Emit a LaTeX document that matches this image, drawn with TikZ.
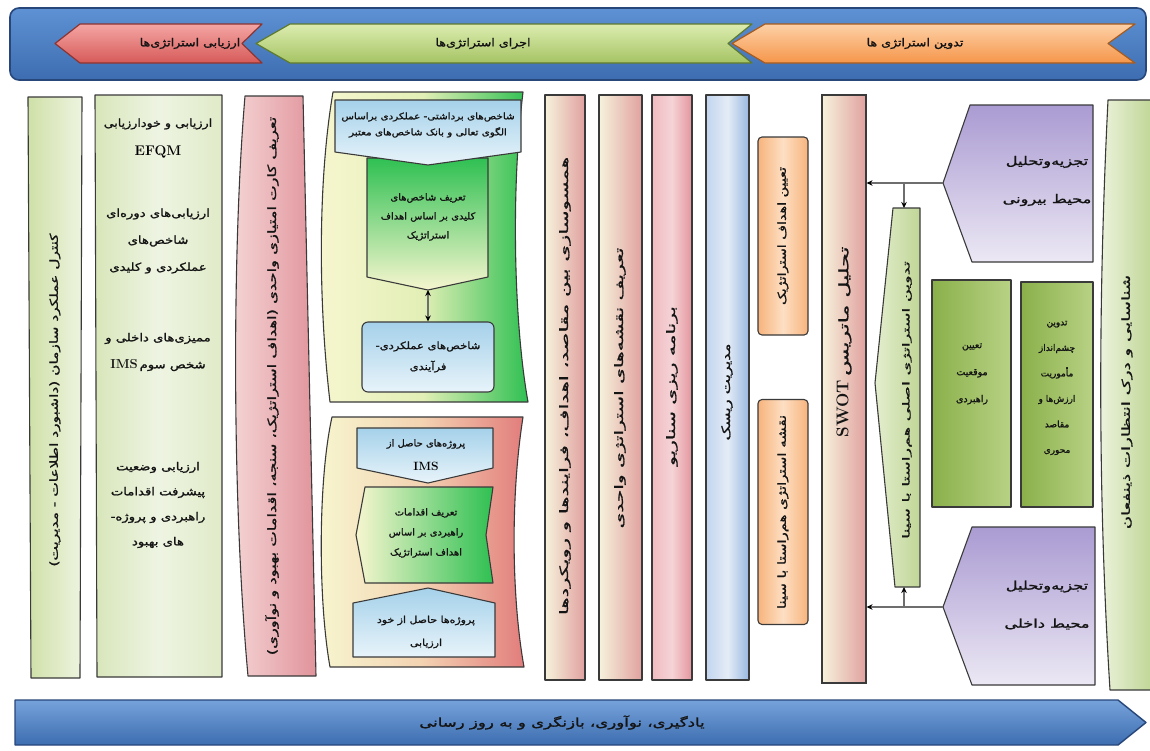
\documentclass[tikz,border=0pt]{standalone}
\usepackage{graphicx}
\usepackage{fontspec}
\TeXXeTstate=1
\newfontfamily\fa[Script=Arabic,FakeBold=1.3]{DejaVu Sans}
\usetikzlibrary{arrows.meta}
% one right-to-left line, optionally widened
\newcommand\prs[2][1]{\scalebox{#1}[1]{\beginR#2\endR}}
\newcommand\latin[1]{{\normalfont\bfseries #1}}

% palette
\definecolor{edge}{HTML}{3A3A3A}
\definecolor{ink}{HTML}{141414}
\definecolor{barTop}{HTML}{5E92D4}
\definecolor{barBot}{HTML}{3D6DB0}
\definecolor{barEdge}{HTML}{27467A}
\definecolor{redTop}{HTML}{F4A6A4}
\definecolor{redBot}{HTML}{D65A58}
\definecolor{redEdge}{HTML}{8C3432}
\definecolor{grnTop}{HTML}{DCECB0}
\definecolor{grnBot}{HTML}{A5C463}
\definecolor{grnEdge}{HTML}{5E7A2E}
\definecolor{orgTop}{HTML}{FDD0A6}
\definecolor{orgBot}{HTML}{F5964A}
\definecolor{orgEdge}{HTML}{A65B1E}
\definecolor{paleA}{HTML}{CFE0A8}
\definecolor{paleB}{HTML}{EEF4E0}
\definecolor{efqmA}{HTML}{D8E6BA}
\definecolor{efqmM}{HTML}{EEF4E2}
\definecolor{efqmB}{HTML}{E0EBC8}
\definecolor{pinkA}{HTML}{F4D5D5}
\definecolor{pinkB}{HTML}{E1939B}
\definecolor{cream}{HTML}{F6F2DC}
\definecolor{rose}{HTML}{E0A19F}
\definecolor{scenA}{HTML}{EFBCC1}
\definecolor{scenM}{HTML}{F5D3D6}
\definecolor{scenB}{HTML}{E3959D}
\definecolor{riskA}{HTML}{C2D4EE}
\definecolor{riskM}{HTML}{E4ECF7}
\definecolor{riskB}{HTML}{98B7E0}
\definecolor{orA}{HTML}{F7B47D}
\definecolor{orM}{HTML}{FDDFC3}
\definecolor{lightG}{HTML}{E4EECF}
\definecolor{midG}{HTML}{C0D696}
\definecolor{boxG1}{HTML}{8AB04A}
\definecolor{boxG2}{HTML}{B8D285}
\definecolor{purA}{HTML}{AA9BD2}
\definecolor{purB}{HTML}{ECE8F4}
\definecolor{yel}{HTML}{F7F6CF}
\definecolor{vivid}{HTML}{2FC052}
\definecolor{yelG}{HTML}{E2EFB6}
\definecolor{peach}{HTML}{F3D3B2}
\definecolor{redish}{HTML}{E27D7C}
\definecolor{skyA}{HTML}{A5D1EA}
\definecolor{skyB}{HTML}{E8F4FA}
\definecolor{linegray}{HTML}{6E6E6E}

\begin{document}
\begin{tikzpicture}[x=1pt,y=-1pt,
  outline/.style={draw=edge,line width=1.1pt,line join=round},
  chev/.style={line width=1.2pt,line join=round},
  fatext/.style={font=\fa\fontsize{9.5}{12}\selectfont,text=ink,align=center,inner sep=0pt},
  coltext/.style={fatext,rotate=90,font=\fa\fontsize{11.5}{12}\selectfont},
  head/.style={fatext,font=\fa\fontsize{11}{12}\selectfont},
  conn/.style={draw=linegray,line width=1.4pt},
  tipend/.style={-{Stealth[length=6pt,width=5.5pt,color=black]}},
  tipboth/.style={{Stealth[length=6pt,width=5.5pt,color=black]}-{Stealth[length=6pt,width=5.5pt,color=black]}}
]
\useasboundingbox (0,0) rectangle (1150,750);
\fill[white] (0,0) rectangle (1150,750);

%------------------------------------------------ phase banner
\path[draw=barEdge,line width=1.6pt,rounded corners=9,top color=barTop,bottom color=barBot]
  (10,8) rectangle (1146,80);
\path[chev,draw=grnEdge,top color=grnTop,bottom color=grnBot]
  (256,43.5) -- (290,24) -- (752,24) -- (728,43.5) -- (752,63) -- (290,63) -- cycle;
\path[chev,draw=redEdge,top color=redTop,bottom color=redBot]
  (55,43.5) -- (80,24) -- (262,24) -- (242,43.5) -- (262,63) -- (80,63) -- cycle;
\path[chev,draw=orgEdge,top color=orgTop,bottom color=orgBot]
  (732,43.5) -- (765,24) -- (1135,24) -- (1108,43.5) -- (1135,63) -- (765,63) -- cycle;
\node[head] (evalHead) at (190,43.5) {\prs[1.15]{ارزیابی استراتژی‌ها}};
\node[head] (execHead) at (483,43.5) {\prs[1.15]{اجرای استراتژی‌ها}};
\node[head] (formHead) at (915,43.5) {\prs[1.15]{تدوین استراتژی ها}};

%------------------------------------------------ learning arrow
\path[draw=barEdge,line width=1.4pt,line join=round,top color=barTop!85!white,bottom color=barBot]
  (15,700) -- (1118,700) -- (1146,722.5) -- (1118,745) -- (15,745) -- cycle;
\node[head,font=\fa\fontsize{12}{12}\selectfont] (learn) at (562,722.5)
  {\prs[1.38]{یادگیری، نوآوری، بازنگری و به روز رسانی}};

%------------------------------------------------ evaluation columns
\path[outline,left color=paleA,right color=paleB] (28,97) -- (82,97) -- (80,678) -- (31,678) -- cycle;
\node[coltext,font=\fa\fontsize{11}{12}\selectfont] (ctrl) at (55,400)
  {\prs[1.4]{کنترل عملکرد سازمان (داشبورد اطلاعات - مدیریت)}};

\path[outline,left color=efqmA,right color=efqmB,middle color=efqmM] (95,95) -- (222,95) -- (222,677) -- (97,677) -- cycle;
\node[fatext,font=\fa\fontsize{11}{12}\selectfont] (efqmA) at (158,124) {\prs[1.15]{ارزیابی و خودارزیابی}};
\node[inner sep=0pt,font=\bfseries\fontsize{14}{14}\selectfont] (efqmB) at (158,152) {EFQM};
\node[fatext,font=\fa\fontsize{11}{27}\selectfont] (periodic) at (158,241)
  {\prs[1.2]{ارزیابی‌های دوره‌ای}\\\prs[1.2]{شاخص‌های}\\\prs[1.2]{عملکردی و کلیدی}};
\node[fatext,font=\fa\fontsize{11}{27}\selectfont] (audit) at (158,352)
  {\prs[1.2]{ممیزی‌های داخلی و}\\{\fontsize{13}{13}\selectfont\latin{IMS}}\,\prs[1.2]{شخص سوم}};
\node[fatext,font=\fa\fontsize{11}{25}\selectfont] (progress) at (158,505)
  {\prs[1.2]{ارزیابی وضعیت}\\\prs[1.2]{پیشرفت اقدامات}\\\prs[1.2]{راهبردی و پروژه‌-}\\\prs[1.2]{های بهبود}};

\path[outline,left color=pinkA,right color=pinkB]
  (245,96) -- (303,96) -- (316,676) -- (248,676) .. controls (232,500) and (232,250) .. (245,96) -- cycle;
\node[coltext] (scorecard) at (272,386)
  {\prs[1.42]{تعریف کارت امتیازی واحدی (اهداف استراتژیک، سنجه، اقدامات بهبود و نوآوری)}};

%------------------------------------------------ indicator group
\path[outline,left color=yel,right color=vivid,middle color=yelG]
  (333,92) -- (523,92) .. controls (510,200) and (515,330) .. (528,402) -- (330,402)
  .. controls (318,300) and (318,180) .. (333,92) -- cycle;
\path[outline,top color=vivid,bottom color=yel]
  (367,158) -- (488,158) -- (488,277) -- (428,290) -- (367,277) -- cycle;
\coordinate (kpiTip) at (428,290);
\node[fatext] (kpiDef) at (428,217) {\prs[1.05]{تعریف شاخص‌های}\\[7pt]\prs[1.05]{کلیدی بر اساس اهداف}\\[7pt]\prs[1.05]{استراتژیک}};
\path[outline,top color=skyA,bottom color=skyB]
  (335,100) -- (521,100) -- (521,152) -- (428,165) -- (335,152) -- cycle;
\node[fatext,font=\fa\fontsize{9}{11}\selectfont] (perception) at (428,125)
  {\prs[1.15]{شاخص‌های برداشتی- عملکردی براساس}\\[5pt]\prs[1.15]{الگوی تعالی و بانک شاخص‌های معتبر}};
\node[outline,rounded corners=6,top color=skyA,bottom color=skyB,minimum width=132pt,minimum height=70pt,
      fatext,font=\fa\fontsize{10}{12}\selectfont,draw=edge,line width=1.1pt] (kpiProc) at (428,357)
  {\prs[1.15]{شاخص‌های عملکردی-}\\[9pt]\prs[1.15]{فرآیندی}};
\draw[conn,tipboth] (kpiTip) -- (kpiProc.north);

%------------------------------------------------ initiative group
\path[outline,left color=yel,right color=redish,middle color=peach]
  (332,417) -- (523,417) .. controls (510,500) and (512,600) .. (524,667) -- (330,667)
  .. controls (318,600) and (318,480) .. (332,417) -- cycle;
\path[outline,left color=yel,right color=vivid]
  (365,487) -- (493,487) -- (486,535) -- (493,583) -- (365,583) -- (356,535) -- cycle;
\node[fatext] (actions) at (426,533) {\prs[1.05]{تعریف اقدامات}\\[8pt]\prs[1.05]{راهبردی بر اساس}\\[8pt]\prs[1.05]{اهداف استراتژیک}};
\path[outline,top color=skyA,bottom color=skyB]
  (357,428) -- (493,428) -- (493,468) -- (428,483) -- (357,468) -- cycle;
\node[fatext] (imsProj) at (426,444) {\prs[1.05]{پروژه‌های حاصل از}};
\node[inner sep=0pt,font=\bfseries\fontsize{12}{12}\selectfont] (imsTag) at (426,466) {IMS};
\path[outline,top color=skyA,bottom color=skyB]
  (353,603) -- (428,588) -- (495,603) -- (495,657) -- (353,657) -- cycle;
\node[fatext] (selfProj) at (426,632) {\prs[1.15]{پروژه‌ها حاصل از خود}\\[11pt]\prs[1.15]{ارزیابی}};

%------------------------------------------------ execution columns
\path[outline,left color=cream,right color=rose] (545,95) -- (585,95) -- (585,680) -- (545,680) -- cycle;
\node[coltext] (align) at (565,386) {\prs[1.85]{همسوسازی بین مقاصد، اهداف، فرایندها و رویکردها}};
\path[outline,left color=cream,right color=rose] (599,95) -- (642,95) -- (642,680) -- (599,680) -- cycle;
\node[coltext] (unitMaps) at (620,388) {\prs[1.75]{تعریف نقشه‌های استراتژی واحدی}};
\path[outline,left color=scenA,right color=scenB,middle color=scenM] (652,95) -- (692,95) -- (692,680) -- (652,680) -- cycle;
\node[coltext] (scenario) at (672,386) {\prs[1.75]{برنامه ریزی سناریو}};
\path[outline,left color=riskA,right color=riskB,middle color=riskM] (706,95) -- (749,95) -- (749,680) -- (706,680) -- cycle;
\node[coltext] (risk) at (727,392) {\prs[1.4]{مدیریت ریسک}};

%------------------------------------------------ formulation
\node[draw=edge,line width=1.1pt,rounded corners=4,left color=orA,right color=orA,middle color=orM,
      minimum width=50pt,minimum height=198pt,inner sep=0pt] (goalsBox) at (783,236) {};
\node[coltext,font=\fa\fontsize{11}{12}\selectfont] (goals) at (goalsBox.center) {\prs[1.3]{تعیین اهداف استراتژیک}};
\node[draw=edge,line width=1.1pt,rounded corners=4,left color=orA,right color=orA,middle color=orM,
      minimum width=50pt,minimum height=225pt,inner sep=0pt] (mapBox) at (783,512) {};
\node[coltext,font=\fa\fontsize{11}{12}\selectfont] (sinaMap) at (mapBox.center) {\prs[1.35]{نقشه استراتژی هم‌راستا با سینا}};

\node[draw=edge,line width=1.1pt,left color=cream,right color=rose,
      minimum width=44pt,minimum height=588pt,inner sep=0pt] (swot) at (844,389) {};
% Latin part first: the rotated line reads from its right end downwards
\node[coltext,font=\fa\fontsize{13}{14}\selectfont] (swotTxt) at (844,342)
  {{\fontsize{17}{17}\selectfont\latin{SWOT}}\ \prs[1.7]{تحلیل ماتریس}};

\path[outline,left color=lightG,right color=midG]
  (893,208) coordinate (mainTop) -- (920,208) -- (920,587) -- (895,587) coordinate (mainBot) -- (875,383) -- cycle;
\node[coltext,font=\fa\fontsize{9.5}{10}\selectfont] (mainStrat) at (907,400)
  {\prs[1.85]{تدوین استراتژی اصلی هم‌راستا با سینا}};

\path[outline,left color=boxG1,right color=boxG2] (932,280) -- (1011,280) -- (1011,507) -- (932,507) -- cycle;
\node[fatext,font=\fa\fontsize{9.5}{27}\selectfont] (position) at (972,374)
  {\prs{تعیین}\\\prs{موقعیت}\\\prs{راهبردی}};
\path[outline,left color=boxG1,right color=boxG2] (1021,282) -- (1093,282) -- (1093,507) -- (1021,507) -- cycle;
\node[fatext,font=\fa\fontsize{9}{25.5}\selectfont] (vision) at (1057,388)
  {\prs{تدوین}\\\prs{چشم‌انداز}\\\prs{مأموریت}\\\prs{ارزش‌ها و}\\\prs{مقاصد}\\\prs{محوری}};

\path[outline,top color=purA,bottom color=purB]
  (970,105) -- (1093,105) -- (1093,262) -- (972,262) -- (943,183) coordinate (extTip) -- cycle;
\node[fatext,font=\fa\fontsize{12}{38}\selectfont] (external) at (1047,181)
  {\prs[1.35]{تجزیه‌وتحلیل}\\\prs[1.35]{محیط بیرونی}};
\path[outline,top color=purA,bottom color=purB]
  (972,527) -- (1095,527) -- (1095,685) -- (972,685) -- (943,607) coordinate (intTip) -- cycle;
\node[fatext,font=\fa\fontsize{12}{38}\selectfont] (internal) at (1047,605)
  {\prs[1.35]{تجزیه‌وتحلیل}\\\prs[1.35]{محیط داخلی}};

\path[outline,left color=paleB,right color=midG]
  (1108,100) -- (1152,100) -- (1152,690) -- (1110,690) .. controls (1098,500) and (1098,300) .. (1108,100) -- cycle;
\node[coltext,font=\fa\fontsize{11}{12}\selectfont] (stake) at (1127,402) {\prs[1.65]{شناسایی و درک انتظارات ذینفعان}};

%------------------------------------------------ environmental analysis feeds
\coordinate (extJoin) at (904,183);
\coordinate (intJoin) at (904,607);
\draw[conn,tipend] (extTip) -- (extTip -| swot.east);
\draw[conn,tipend] (extJoin) -- (extJoin |- mainTop);
\draw[conn,tipend] (intTip) -- (intTip -| swot.east);
\draw[conn,tipend] (intJoin) -- (intJoin |- mainBot);
\end{tikzpicture}
\end{document}
